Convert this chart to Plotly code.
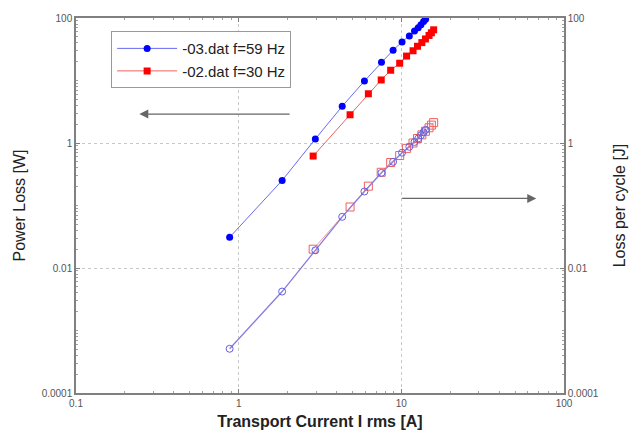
import math
import plotly.graph_objects as go

# Power loss [W] (left axis), filled markers
cur_59 = [0.88, 1.85, 2.96, 4.33, 5.93, 7.55, 8.9, 10.1, 11.2, 12.05, 12.7, 13.2, 13.7, 14.1]
pow_59 = [0.031, 0.252, 1.16, 3.87, 9.8, 19.5, 30.6, 41.4, 51.5, 61.8, 69.7, 78.3, 87.5, 95.4]
cur_30 = [2.87, 4.84, 6.27, 7.52, 8.6, 9.77, 10.77, 11.8, 12.57, 13.37, 14.07, 14.8, 15.3, 15.8]
pow_30 = [0.618, 2.83, 6.13, 10.2, 14.6, 18.9, 24.6, 29.9, 35.3, 40.4, 46.2, 52.6, 58.0, 64.7]
# Loss per cycle [J] (right axis), hollow markers
cyc_59 = [0.00051, 0.0042, 0.0192, 0.0659, 0.1675, 0.333, 0.50, 0.70, 0.87, 1.04, 1.18, 1.33, 1.48, 1.62]
cyc_30 = [0.0200, 0.0946, 0.204, 0.34, 0.487, 0.63, 0.82, 1.0, 1.18, 1.35, 1.54, 1.75, 1.93, 2.12]

legend_names = ["-03.dat f=59 Hz", "-02.dat f=30 Hz"]
x_ticks = [0.1, 1, 10, 100]
x_tick_text = ["0.1", "1", "10", "100"]
y_ticks = [0.0001, 0.01, 1, 100]
y_tick_text = ["0.0001", "0.01", "1", "100"]

FONT = "Liberation Sans, Arial, sans-serif"
AX = "#808080"

fig = go.Figure()
fig.add_trace(go.Scatter(x=cur_30, y=cyc_30, mode="lines+markers", showlegend=False, yaxis="y2",
                         line=dict(color="#f0a0a0", width=1),
                         marker=dict(symbol="square-open", size=8, color="#f06060", line=dict(width=1))))
fig.add_trace(go.Scatter(x=cur_59, y=cyc_59, mode="lines+markers", showlegend=False, yaxis="y2",
                         line=dict(color="#8a7ae0", width=1.3),
                         marker=dict(symbol="circle-open", size=7, color="#6060e0", line=dict(width=1))))
fig.add_trace(go.Scatter(x=cur_59, y=pow_59, mode="lines+markers", name=legend_names[0],
                         line=dict(color="#6a6af0", width=1),
                         marker=dict(symbol="circle", size=7, color="#0000ff")))
fig.add_trace(go.Scatter(x=cur_30, y=pow_30, mode="lines+markers", name=legend_names[1],
                         line=dict(color="#f06060", width=1),
                         marker=dict(symbol="square", size=7, color="#ff0000")))

tickfont = dict(family=FONT, size=10, color="#555555")
minor = dict(ticks="inside", ticklen=2, tickcolor="#a0a0a0", showgrid=False, dtick="D1")
title_font = dict(family=FONT, size=16, color="#222222")

fig.update_layout(
    width=638, height=440,
    margin=dict(l=76, r=72, t=14, b=45),
    paper_bgcolor="white", plot_bgcolor="white",
    font=dict(family=FONT, color="#222222"),
    showlegend=True,
    legend=dict(x=0.072, y=0.965, xanchor="left", yanchor="top",
                bordercolor="#999999", borderwidth=1, bgcolor="white",
                font=dict(family=FONT, size=15, color="#222222"),
                tracegroupgap=0, itemwidth=60, traceorder="normal"),
    xaxis=dict(type="log", range=[-1, 2], tickvals=x_ticks, ticktext=x_tick_text,
               tickfont=tickfont, ticks="inside", ticklen=4, tickcolor=AX,
               showline=True, linecolor=AX, linewidth=1.5, mirror="ticks",
               showgrid=True, gridcolor="#c8c8c8", griddash="dot", gridwidth=1,
               minor=minor, zeroline=False,
               title=dict(text="<b>Transport Current I rms [A]</b>",
                          font=title_font, standoff=8)),
    yaxis=dict(type="log", range=[-4, 2], tickvals=y_ticks, ticktext=y_tick_text,
               tickfont=tickfont, ticks="inside", ticklen=4, tickcolor=AX,
               showline=True, linecolor=AX, linewidth=1.5,
               showgrid=True, gridcolor="#c8c8c8", griddash="dot", gridwidth=1,
               minor=minor, zeroline=False,
               title=dict(text="Power Loss [W]", font=title_font, standoff=12)),
    yaxis2=dict(type="log", range=[-4, 2], tickvals=y_ticks, ticktext=y_tick_text,
                overlaying="y", side="right",
                tickfont=tickfont, ticks="inside", ticklen=4, tickcolor=AX,
                showline=True, linecolor=AX, linewidth=1.5, showgrid=False,
                minor=minor, zeroline=False,
                title=dict(text="Loss per cycle [J]", font=title_font, standoff=16)),
)

# direction arrows (log axes: positions in log10 units)
L = math.log10
fig.add_annotation(x=L(0.245), y=L(2.9), ax=L(2.1), ay=L(2.9),
                   xref="x", yref="y", axref="x", ayref="y",
                   text="", showarrow=True, arrowhead=2, arrowsize=1.5, arrowwidth=1.2,
                   arrowcolor="#666666")
fig.add_annotation(x=L(67.5), y=L(0.13), ax=L(9.9), ay=L(0.13),
                   xref="x", yref="y2", axref="x", ayref="y2",
                   text="", showarrow=True, arrowhead=2, arrowsize=1.5, arrowwidth=1.2,
                   arrowcolor="#666666")

fig.write_html("out.html")
